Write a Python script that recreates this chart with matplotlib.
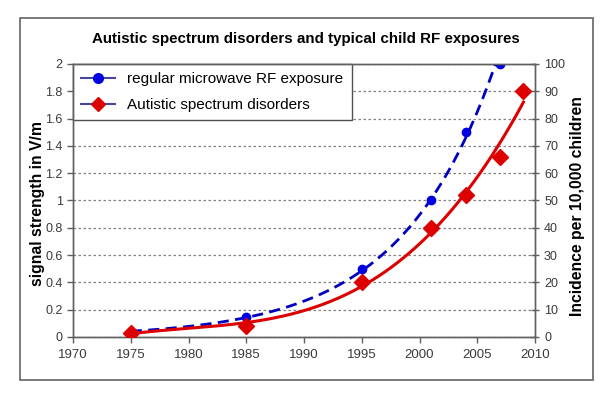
import numpy as np
import matplotlib
matplotlib.use("Agg")
import matplotlib.pyplot as plt
from matplotlib.lines import Line2D
from matplotlib.patches import Rectangle

plt.rcParams['font.family'] = ['Liberation Sans', 'DejaVu Sans']

# data
rf_years = [1975, 1985, 1995, 2001, 2004, 2007]
rf_vm = [0.04, 0.15, 0.5, 1.0, 1.5, 2.0]          # signal strength, V/m (left axis)
asd_years = [1975, 1985, 1995, 2001, 2004, 2007, 2009]
asd_inc = [1.5, 4, 20, 40, 52, 66, 90]             # per 10,000 children (right axis)

title = "Autistic spectrum disorders and typical child RF exposures"
left_label = "signal strength in V/m"
right_label = "Incidence per 10,000 children"
rf_name = "regular microwave RF exposure"
asd_name = "Autistic spectrum disorders"

blue = "#0000e0"
red = "#dd0000"
tick_col = "#3a3a3a"

fig = plt.figure(figsize=(6.12, 3.98), dpi=100)
fig.patches.append(Rectangle((0.0327, 0.0452), 0.9363, 0.9098, transform=fig.transFigure,
                             fill=False, edgecolor="#707070", linewidth=1.3))

ax = fig.add_axes([0.1193, 0.1533, 0.7549, 0.6859])
ax2 = ax.twinx()


# trendlines: exponential for the RF series, cubic for the incidence series
def expo_trend(xs, ys):
    xs = np.array(xs, dtype=float)
    b, a = np.polyfit(xs, np.log(ys), 1)
    xx = np.linspace(xs.min(), xs.max(), 200)
    return xx, np.exp(a + b * xx)


def poly_trend(xs, ys, deg):
    xs = np.array(xs, dtype=float) - 1970
    c = np.polyfit(xs, ys, deg)
    xx = np.linspace(xs.min(), xs.max(), 200)
    return xx + 1970, np.polyval(c, xx)


xx, yy = expo_trend(rf_years, rf_vm)
ax.plot(xx, yy, color="#0000c0", lw=2.0, dashes=(4, 2.3), zorder=3)
ax.plot(rf_years, rf_vm, 'o', color=blue, ms=6, zorder=4)

xx2, yy2 = poly_trend(asd_years, asd_inc, 3)
ax2.plot(xx2, yy2, color=red, lw=2.2, zorder=3)
ax2.plot(asd_years, asd_inc, 'D', color=red, ms=8.5, zorder=4)

ax.set_xlim(1970, 2010)
ax.set_ylim(0, 2)
ax2.set_ylim(0, 100)
ax.set_xticks(np.arange(1970, 2011, 5))
ax.set_yticks(np.arange(0, 2.01, 0.2))
ax2.set_yticks(np.arange(0, 101, 10))
ax.set_yticklabels([f"{v:g}" for v in np.arange(0, 2.01, 0.2).round(1)])

ax.yaxis.grid(True, linestyle=(0, (2, 2)), color="#808080", lw=0.9)
ax.set_axisbelow(True)

for a in (ax, ax2):
    for s in a.spines.values():
        s.set_color("#606060")
        s.set_linewidth(1.0)
    a.tick_params(colors="#606060", labelcolor=tick_col, labelsize=9, length=4, width=1,
                  direction="out")
ax.tick_params(axis="x", labelsize=9.5, pad=5)
ax2.tick_params(axis="y", direction="inout", length=6)

ax.set_ylabel(left_label, fontsize=11.3, fontweight="bold")
ax.yaxis.set_label_coords(-0.061, 0.49)
ax2.set_ylabel(right_label, fontsize=11.3, fontweight="bold", rotation=90)
ax2.yaxis.set_label_coords(1.076, 0.48)
fig.text(0.5, 0.902, title, ha="center", va="center", fontsize=10.9, fontweight="bold")

handles = [
    Line2D([], [], color="#4545a0", lw=1.5, marker='o', mfc=blue, mec=blue, ms=7),
    Line2D([], [], color="#4545a0", lw=1.5, marker='D', mfc=red, mec=red, ms=7),
]
leg = ax.legend(handles, [rf_name, asd_name], loc="upper left", bbox_to_anchor=(0, 1),
                borderaxespad=0, fancybox=False, framealpha=1, edgecolor="#505050",
                fontsize=11, handlelength=2.2, borderpad=0.55, labelspacing=0.75)
leg.get_frame().set_linewidth(1.0)
leg.set_zorder(10)

fig.savefig("out.png", dpi=100)
